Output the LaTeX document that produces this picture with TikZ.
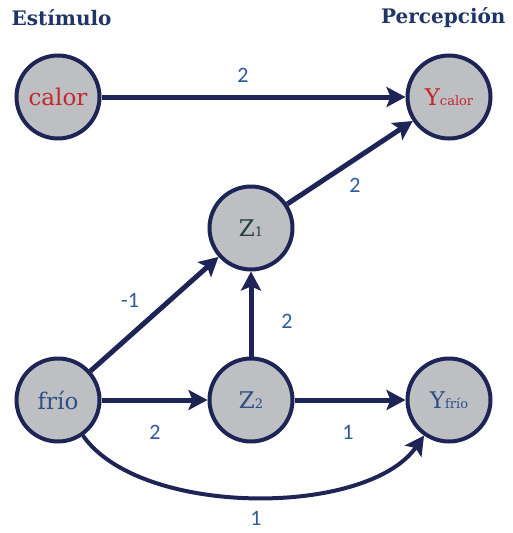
\documentclass[tikz,border=0pt]{standalone}
\usepackage{fontspec}
\usetikzlibrary{arrows.meta}
\setmainfont{DejaVu Serif}
\newfontfamily\labelfont{Carlito}
\definecolor{navy}{HTML}{1E2456}
\definecolor{nodegray}{HTML}{BEBFC3}
\definecolor{hotred}{HTML}{C3272E}
\definecolor{coldblue}{HTML}{2D4E86}
\definecolor{zgreen}{HTML}{24403E}
\definecolor{wblue}{HTML}{2F5A9C}
\definecolor{titleblue}{HTML}{1F3566}
\tikzset{
  var/.style={circle,draw=navy,line width=4pt,fill=nodegray,minimum size=83pt,inner sep=0pt,
    font=\fontsize{23}{27}\selectfont},
  arr/.style={draw=navy,line width=5pt,-{Stealth[length=19pt,width=20pt,inset=4pt]}},
  wt/.style={font=\labelfont\fontsize{22}{26}\selectfont,text=wblue,inner sep=1pt},
  ttl/.style={font=\bfseries\fontsize{20}{24}\selectfont,text=titleblue}
}
\newcommand{\sub}[1]{{\fontsize{13}{15}\selectfont #1}}
\begin{document}
\begin{tikzpicture}[x=1pt,y=-1pt]
\useasboundingbox (0,0) rectangle (512,533);
\node[ttl,anchor=west] (tstim) at (8,18) {Estímulo};
\node[ttl,anchor=east] (tperc) at (509,18) {Percepción};
\node[var,text=hotred] (calor) at (58,97) {calor};
\node[var,text=hotred] (ycalor) at (449,97) {Y\sub{calor}};
\node[var,text=zgreen] (zuno) at (251,228) {Z\sub{1}};
\node[var,text=coldblue] (frio) at (58,400) {frío};
\node[var,text=coldblue] (zdos) at (251,400) {Z\sub{2}};
\node[var,text=coldblue] (yfrio) at (449,400) {Y\sub{frío}};
\draw[arr] (calor) -- (ycalor);
\draw[arr] (zuno) -- (ycalor);
\draw[arr] (frio) -- (zuno);
\draw[arr] (zdos) -- (zuno);
\draw[arr] (frio) -- (zdos);
\draw[arr] (zdos) -- (yfrio);
\draw[arr,line width=4pt] (frio) to[out=-55,in=-125,looseness=0.75] (yfrio);
\node[wt] (w1) at (243,75) {2};
\node[wt] (w2) at (355,185) {2};
\node[wt] (w3) at (130,300) {-1};
\node[wt] (w4) at (287,321) {2};
\node[wt] (w5) at (155,432) {2};
\node[wt] (w6) at (348,432) {1};
\node[wt] (w7) at (256,518) {1};
\end{tikzpicture}
\end{document}
